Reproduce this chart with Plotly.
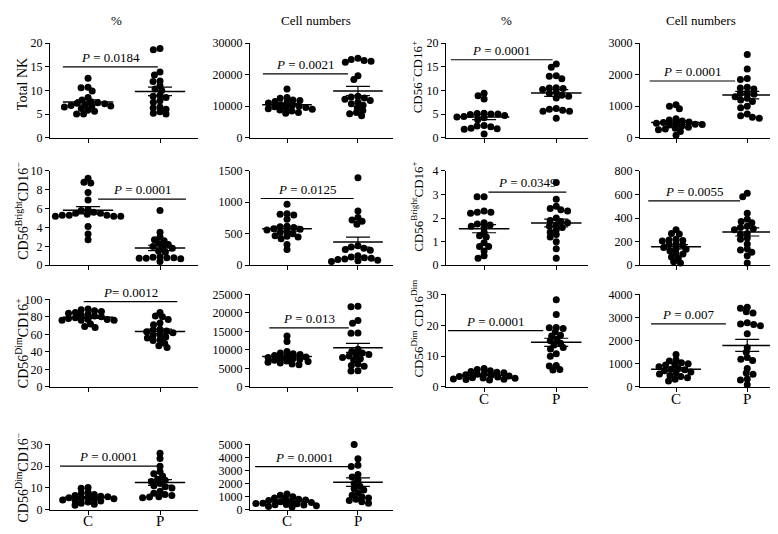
import numpy as np
import plotly.graph_objects as go

W, H = 778, 534
FONT = "Liberation Serif"

# ---------------- data ----------------
groups = ["C", "P"]
col_headers = ["%", "Cell numbers", "%", "Cell numbers"]

total_nk_pct_C = [12.6, 10.7, 10.6, 9.9, 8.5, 8.0, 7.6, 7.4, 7.3, 7.2, 7.0, 6.8, 6.7, 6.6, 6.5, 6.2, 5.8, 5.6, 5.0, 5.0]
total_nk_pct_P = [18.9, 18.6, 13.9, 13.3, 12.0, 11.9, 11.0, 10.3, 10.0, 9.0, 8.8, 8.5, 7.8, 7.5, 6.5, 6.3, 6.0, 5.5, 5.2, 5.0]
total_nk_num_C = [15500, 12800, 12500, 12000, 11800, 11500, 11200, 11000, 10500, 10200, 10000, 9800, 9600, 9400, 9200, 9000, 8800, 8500, 8000, 7800]
total_nk_num_P = [25200, 24800, 24500, 24300, 24000, 19700, 18500, 13200, 12900, 12600, 12200, 11800, 11300, 10800, 10300, 9500, 8600, 8000, 7600, 7000]

neg_pos_pct_C = [9.4, 8.9, 8.2, 5.2, 5.1, 5.0, 5.0, 4.9, 4.7, 4.5, 4.4, 4.2, 3.8, 2.6, 2.5, 2.3, 2.0, 1.9, 1.8, 0.8]
neg_pos_pct_P = [15.6, 14.9, 13.1, 13.0, 12.5, 10.6, 10.5, 10.4, 10.2, 9.6, 9.4, 9.0, 8.8, 8.4, 6.2, 6.0, 5.8, 5.6, 5.6, 4.1]
neg_pos_num_C = [1050, 1000, 920, 600, 560, 530, 500, 480, 460, 450, 430, 420, 400, 360, 330, 300, 280, 250, 200, 80]
neg_pos_num_P = [2640, 2180, 1880, 1850, 1600, 1580, 1550, 1420, 1400, 1380, 1300, 1250, 1200, 1150, 1000, 950, 750, 700, 650, 620]

bright_neg_pct_C = [9.2, 8.8, 8.7, 7.7, 6.9, 5.9, 5.8, 5.6, 5.5, 5.5, 5.4, 5.3, 5.3, 5.3, 5.2, 5.2, 5.2, 4.1, 3.3, 2.7]
bright_neg_pct_P = [5.8, 3.5, 3.0, 2.7, 2.6, 2.3, 2.2, 2.0, 1.9, 1.8, 1.5, 1.4, 0.9, 0.85, 0.8, 0.8, 0.75, 0.75, 0.7, 0.4]
bright_neg_num_C = [970, 820, 810, 800, 730, 620, 610, 600, 580, 570, 560, 540, 520, 500, 470, 460, 450, 420, 330, 250]
bright_neg_num_P = [1390, 860, 760, 720, 700, 650, 310, 290, 270, 250, 240, 150, 130, 120, 110, 100, 90, 80, 70, 60]

bright_pos_pct_C = [2.9, 2.9, 2.3, 2.25, 2.25, 2.2, 1.8, 1.75, 1.7, 1.65, 1.6, 1.4, 1.25, 1.2, 0.95, 0.8, 0.8, 0.6, 0.4, 0.3]
bright_pos_pct_P = [3.5, 2.8, 2.5, 2.4, 2.35, 2.3, 2.0, 1.9, 1.85, 1.8, 1.7, 1.65, 1.6, 1.5, 1.4, 1.3, 1.2, 1.0, 0.7, 0.3]
bright_pos_num_C = [300, 270, 265, 220, 215, 210, 205, 180, 175, 170, 150, 140, 135, 120, 100, 95, 70, 60, 30, 20]
bright_pos_num_P = [610, 580, 440, 390, 370, 360, 330, 320, 310, 300, 270, 260, 230, 220, 180, 140, 130, 110, 80, 20]

dim_pos_pct_C = [89, 88, 87, 86, 85, 84, 83, 82, 81, 80, 79, 78, 77, 77, 76, 76, 76, 72, 69, 68]
dim_pos_pct_P = [85, 81, 80, 77, 73, 71, 66, 65, 64, 63, 62, 60, 59, 57, 56, 54, 53, 50, 47, 45]
dim_pos_num_C = [13800, 12300, 9600, 9200, 9000, 8800, 8500, 8300, 8100, 8000, 7800, 7600, 7400, 7200, 7000, 6900, 6700, 6500, 6200, 6000]
dim_pos_num_P = [21800, 21700, 18000, 17200, 14600, 14500, 10200, 9600, 9200, 8800, 8600, 8400, 8000, 7600, 7200, 6200, 5800, 5600, 4400, 4300]

dim_dim_pct_C = [6.0, 5.7, 5.3, 5.0, 4.8, 4.6, 4.4, 4.1, 4.0, 3.8, 3.6, 3.4, 3.2, 3.0, 2.9, 2.8, 2.6, 2.5, 2.4, 2.3]
dim_dim_pct_P = [28.3, 23.5, 19.3, 19.2, 19.0, 17.8, 16.5, 16.8, 15.0, 15.5, 14.2, 13.6, 12.8, 12.3, 10.8, 10.0, 7.0, 6.8, 5.7, 5.5]
dim_dim_num_C = [1400, 1180, 1120, 1050, 1000, 980, 950, 880, 800, 770, 750, 700, 650, 600, 560, 500, 450, 400, 330, 260]
dim_dim_num_P = [3450, 3400, 3250, 3200, 2780, 2700, 2650, 2720, 2300, 1700, 1500, 1280, 1200, 1150, 800, 600, 550, 350, 300, 100]

dim_neg_pct_C = [10.2, 9.8, 8.0, 7.5, 7.0, 6.5, 6.2, 6.0, 5.8, 5.5, 5.2, 5.0, 4.8, 4.5, 4.2, 4.0, 3.5, 3.0, 2.5, 2.0]
dim_neg_pct_P = [26.0, 23.5, 20.0, 17.5, 16.5, 15.5, 14.0, 13.5, 13.0, 12.0, 11.0, 10.5, 10.0, 8.5, 7.5, 7.0, 6.5, 6.0, 5.8, 5.5]
dim_neg_num_C = [1200, 1100, 1000, 900, 850, 800, 750, 700, 650, 600, 550, 500, 480, 450, 400, 380, 350, 300, 250, 200]
dim_neg_num_P = [5300, 5000, 3900, 3400, 3300, 2700, 2500, 2300, 2000, 1800, 1600, 1500, 1300, 1100, 1000, 900, 800, 700, 600, 500]

p_values = ["0.0184", "0.0021", "0.0001", "0.0001",
            "0.0001", "0.0125", "0.0349", "0.0055",
            "0.0012", "0.013", "0.0001", "0.007",
            "0.0001", "0.0001"]

y_labels = ["Total NK", None, "CD56<sup>−</sup>CD16<sup>+</sup>", None,
            "CD56<sup>Bright</sup>CD16<sup>−</sup>", None, "CD56<sup>Bright</sup>CD16<sup>+</sup>", None,
            "CD56<sup>Dim</sup>CD16<sup>+</sup>", None, "CD56<sup>Dim</sup> CD16<sup>Dim</sup>", None,
            "CD56<sup>Dim</sup>CD16<sup>−</sup>", None]

series = [(total_nk_pct_C, total_nk_pct_P), (total_nk_num_C, total_nk_num_P),
          (neg_pos_pct_C, neg_pos_pct_P), (neg_pos_num_C, neg_pos_num_P),
          (bright_neg_pct_C, bright_neg_pct_P), (bright_neg_num_C, bright_neg_num_P),
          (bright_pos_pct_C, bright_pos_pct_P), (bright_pos_num_C, bright_pos_num_P),
          (dim_pos_pct_C, dim_pos_pct_P), (dim_pos_num_C, dim_pos_num_P),
          (dim_dim_pct_C, dim_dim_pct_P), (dim_dim_num_C, dim_dim_num_P),
          (dim_neg_pct_C, dim_neg_pct_P), (dim_neg_num_C, dim_neg_num_P)]

y_max = [20, 30000, 20, 3000, 10, 1500, 4, 800, 100, 25000, 30, 4000, 30, 5000]
y_dtick = [5, 10000, 5, 1000, 2, 500, 1, 200, 20, 5000, 10, 1000, 10, 1000]

# ---------------- layout / style ----------------
COL_X = {1: (42, 190), 2: (242, 385), 3: (438, 580), 4: (632, 777)}
COL_XR = {1: (0.471, 2.528), 2: (0.478, 2.494), 3: (0.472, 2.44), 4: (0.494, 2.53)}
ROW_Y = {1: (29, 126), 2: (160, 257), 3: (287, 382), 4: (441, 508)}
grid_pos = [(1, 1), (1, 2), (1, 3), (1, 4),
            (2, 1), (2, 2), (2, 3), (2, 4),
            (3, 1), (3, 2), (3, 3), (3, 4),
            (4, 1), (4, 2)]
bracket = [(15.0, 0.65, 1.97), (20300, 0.66, 1.86), (16.5, 0.54, 1.95), (1800, 0.63, 1.83),
           (7.0, 1.14, 2.36), (1060, 0.63, 1.94), (3.1, 1.06, 2.14), (545, 0.61, 1.90),
           (97.5, 0.94, 2.24), (16000, 0.75, 1.87), (18.3, 0.50, 1.82), (2730, 0.65, 1.70),
           (20.0, 0.61, 1.97), (3300, 0.55, 1.93)]
p_fmt = ["<i>P</i> = {}"] * 14
p_fmt[8] = "<i>P</i>= {}"
title_y = {0: 71, 2: 64, 4: 201, 6: 197, 8: 337, 10: 322, 12: 475}
title_x = {1: 14, 3: 409}
label_rows = {10, 11, 12, 13}
LABEL_GAP = 12   # px from x-axis line down to C/P label centre


def swarm(vals, ypx, dx=7.0, dy=4.8):
    """staggered-row swarm: elliptical no-overlap rule (dx horizontal, dy vertical)."""
    ys = np.asarray(vals, float) * ypx * (dx / dy)
    order = np.argsort(-ys)
    placed = []
    xs = np.zeros(len(ys))
    for i in order:
        y = ys[i]
        cands = [0.0]
        for px, py in placed:
            d = abs(py - y)
            if d < dx:
                h = np.sqrt(dx * dx - d * d)
                cands += [px + h, px - h]
        cands.sort(key=lambda c: (abs(c), c))
        for c in cands:
            if all((c - px) ** 2 + (y - py) ** 2 >= dx * dx - 1e-6 for px, py in placed):
                xs[i] = c
                break
        placed.append((xs[i], y))
    return xs


fig = go.Figure()
layout = dict(width=W, height=H, margin=dict(l=0, r=0, t=0, b=0),
              paper_bgcolor="white", plot_bgcolor="white", showlegend=False,
              font=dict(family=FONT, color="black", size=12))
annotations = []

for k, ((row, col), (cv, pv)) in enumerate(zip(grid_pos, series)):
    n = k + 1
    xn, yn = ("x", "y") if n == 1 else (f"x{n}", f"y{n}")
    x0p, x1p = COL_X[col]
    y0p, y1p = ROW_Y[row]
    if k == 8:
        y0p = 292
    xr = COL_XR[col]
    ypx = (y1p - y0p) / y_max[k]
    xpx = (x1p - x0p) / (xr[1] - xr[0])

    for g, vals in zip([1, 2], [cv, pv]):
        offs = swarm(vals, ypx) / xpx
        fig.add_trace(go.Scatter(x=g + offs, y=vals, mode="markers",
                                 marker=dict(size=7, color="black"),
                                 xaxis=xn, yaxis=yn, cliponaxis=False, hoverinfo="skip"))
        arr = np.asarray(vals, float)
        m = arr.mean()
        sem = arr.std(ddof=1) / np.sqrt(len(arr))
        fig.add_trace(go.Scatter(x=[g - 0.35, g + 0.35], y=[m, m], mode="lines",
                                 line=dict(color="black", width=1.5),
                                 xaxis=xn, yaxis=yn, cliponaxis=False, hoverinfo="skip"))
        fig.add_trace(go.Scatter(x=[g], y=[m], mode="markers", marker=dict(size=1, opacity=0),
                                 error_y=dict(type="data", array=[sem], visible=True,
                                              color="black", thickness=1.2, width=12),
                                 xaxis=xn, yaxis=yn, cliponaxis=False, hoverinfo="skip"))

    by, bx0, bx1 = bracket[k]
    fig.add_trace(go.Scatter(x=[bx0, bx1], y=[by, by], mode="lines",
                             line=dict(color="black", width=1.2),
                             xaxis=xn, yaxis=yn, cliponaxis=False, hoverinfo="skip"))
    annotations.append(dict(x=(bx0 + bx1) / 2, y=by, xref=xn, yref=yn, yanchor="bottom",
                            showarrow=False, text=p_fmt[k].format(p_values[k]),
                            font=dict(family=FONT, size=13, color="black")))

    if k in label_rows:
        for g, lab in zip([1, 2], groups):
            annotations.append(dict(x=g, y=1 - (y1p + LABEL_GAP) / H, xref=xn, yref="paper",
                                    text=lab, showarrow=False, xanchor="center", yanchor="middle",
                                    font=dict(family=FONT, size=15, color="black")))

    axsuf = "" if n == 1 else str(n)
    layout["xaxis" + axsuf] = dict(
        domain=[x0p / W, x1p / W], range=list(xr), anchor=yn,
        showline=True, linecolor="black", linewidth=1, ticks="outside", ticklen=4,
        tickwidth=1, tickcolor="black", tickvals=[1, 2], showticklabels=False,
        showgrid=False, zeroline=False, fixedrange=True)
    layout["yaxis" + axsuf] = dict(
        domain=[1 - y1p / H, 1 - y0p / H], range=[0, y_max[k]], anchor=xn,
        showline=True, linecolor="black", linewidth=1, ticks="outside", ticklen=4,
        tickwidth=1, tickcolor="black", dtick=y_dtick[k], tick0=0, tickformat="d",
        tickfont=dict(family=FONT, size=12), showgrid=False, zeroline=False, fixedrange=True)

    if y_labels[k]:
        annotations.append(dict(x=title_x[col] / W, y=1 - title_y[k] / H, xref="paper", yref="paper",
                                text=y_labels[k], textangle=-90, showarrow=False,
                                xanchor="center", yanchor="middle",
                                font=dict(family=FONT, size=14 if col == 1 else 13, color="black")))

for hx, txt in zip([108, 308, 498, 693], col_headers):
    annotations.append(dict(x=hx / W, y=1 - 6 / H, xref="paper", yref="paper", text=txt,
                            showarrow=False, xanchor="center", yanchor="middle",
                            font=dict(family=FONT, size=13, color="black")))

layout["annotations"] = annotations
fig.update_layout(**layout)
fig.write_html("out.html")
